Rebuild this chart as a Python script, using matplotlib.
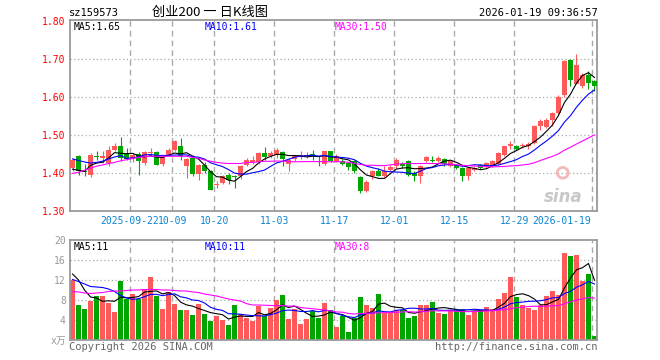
import matplotlib
matplotlib.use("Agg")
import matplotlib.pyplot as plt
import matplotlib.transforms as mtransforms
import numpy as np
import pandas as pd

# daily K data, 2025-09-08 .. 2026-01-19 (88 trading days)
opens = [1.413, 1.446, 1.405, 1.396, 1.445, 1.439, 1.426, 1.461, 1.470, 1.452,
         1.437, 1.451, 1.426, 1.452, 1.455, 1.425, 1.448, 1.461, 1.472, 1.418,
         1.439, 1.398, 1.422, 1.404, 1.368, 1.375, 1.396, 1.392, 1.391, 1.422,
         1.430, 1.428, 1.453, 1.444, 1.448, 1.454, 1.425, 1.437, 1.442, 1.444,
         1.450, 1.432, 1.425, 1.457, 1.431, 1.432, 1.426, 1.431, 1.389, 1.352,
         1.391, 1.404, 1.393, 1.409, 1.418, 1.425, 1.431, 1.400, 1.393, 1.431,
         1.435, 1.431, 1.437, 1.418, 1.420, 1.413, 1.393, 1.407, 1.420, 1.418,
         1.418, 1.425, 1.448, 1.470, 1.470, 1.470, 1.471, 1.479, 1.523, 1.521,
         1.540, 1.558, 1.604, 1.698, 1.635, 1.628, 1.659, 1.641]
highs = [1.440, 1.448, 1.423, 1.452, 1.457, 1.457, 1.470, 1.478, 1.496, 1.467,
         1.452, 1.455, 1.458, 1.466, 1.458, 1.445, 1.466, 1.486, 1.492, 1.440,
         1.448, 1.425, 1.430, 1.409, 1.380, 1.396, 1.400, 1.395, 1.420, 1.440,
         1.445, 1.456, 1.468, 1.458, 1.465, 1.457, 1.440, 1.448, 1.457, 1.455,
         1.461, 1.444, 1.459, 1.459, 1.450, 1.436, 1.430, 1.433, 1.391, 1.382,
         1.409, 1.413, 1.418, 1.420, 1.440, 1.430, 1.433, 1.404, 1.420, 1.445,
         1.444, 1.444, 1.440, 1.435, 1.424, 1.415, 1.415, 1.416, 1.423, 1.430,
         1.434, 1.456, 1.472, 1.483, 1.474, 1.479, 1.481, 1.526, 1.542, 1.545,
         1.560, 1.604, 1.697, 1.700, 1.714, 1.663, 1.668, 1.645]
lows = [1.405, 1.396, 1.393, 1.390, 1.433, 1.426, 1.418, 1.458, 1.431, 1.435,
        1.430, 1.396, 1.420, 1.448, 1.420, 1.418, 1.445, 1.458, 1.435, 1.387,
        1.391, 1.381, 1.400, 1.354, 1.360, 1.371, 1.372, 1.361, 1.385, 1.418,
        1.425, 1.425, 1.435, 1.440, 1.440, 1.418, 1.404, 1.432, 1.438, 1.440,
        1.435, 1.418, 1.420, 1.428, 1.428, 1.422, 1.409, 1.400, 1.347, 1.350,
        1.384, 1.391, 1.390, 1.405, 1.412, 1.414, 1.391, 1.378, 1.375, 1.428,
        1.428, 1.428, 1.418, 1.415, 1.410, 1.378, 1.381, 1.404, 1.410, 1.415,
        1.416, 1.423, 1.446, 1.463, 1.460, 1.466, 1.463, 1.476, 1.512, 1.519,
        1.523, 1.556, 1.601, 1.630, 1.633, 1.624, 1.621, 1.615]
closes = [1.433, 1.404, 1.402, 1.448, 1.443, 1.444, 1.461, 1.472, 1.440, 1.437,
          1.448, 1.431, 1.454, 1.455, 1.422, 1.442, 1.461, 1.483, 1.444, 1.437,
          1.398, 1.422, 1.404, 1.356, 1.371, 1.393, 1.382, 1.390, 1.418, 1.435,
          1.435, 1.453, 1.443, 1.453, 1.461, 1.437, 1.435, 1.444, 1.448, 1.448,
          1.446, 1.430, 1.457, 1.431, 1.444, 1.425, 1.416, 1.404, 1.352, 1.376,
          1.404, 1.393, 1.404, 1.416, 1.435, 1.418, 1.396, 1.391, 1.418, 1.442,
          1.431, 1.440, 1.425, 1.431, 1.413, 1.391, 1.413, 1.413, 1.413, 1.426,
          1.431, 1.453, 1.470, 1.477, 1.464, 1.475, 1.475, 1.523, 1.536, 1.540,
          1.558, 1.600, 1.694, 1.645, 1.685, 1.659, 1.637, 1.630]
volumes = [12.1, 7.0, 6.2, 7.9, 8.8, 8.8, 7.5, 5.7, 11.9, 8.3,
           9.2, 8.3, 10.2, 12.6, 8.8, 6.2, 9.7, 7.2, 6.0, 6.0,
           5.0, 7.3, 5.2, 3.9, 4.9, 4.0, 3.0, 7.0, 5.2, 4.4,
           3.9, 6.9, 4.8, 6.5, 8.0, 9.0, 4.2, 6.2, 3.2, 4.2,
           5.8, 4.5, 7.4, 6.0, 2.7, 4.8, 1.7, 4.5, 8.7, 7.0,
           6.5, 9.2, 5.5, 5.5, 6.0, 6.0, 4.5, 4.8, 7.0, 7.0,
           7.7, 5.5, 5.2, 6.0, 6.2, 6.2, 5.0, 5.7, 6.0, 6.7,
           6.2, 8.3, 9.5, 12.7, 8.7, 7.0, 6.5, 6.0, 7.0, 8.8,
           9.8, 9.0, 17.5, 16.9, 17.0, 11.9, 13.2, 0.8]

# moving-average values at the left edge (history before the window)
ma5_head = [1.410, 1.407, 1.404, 1.420]
ma10_head = [1.437, 1.433, 1.429, 1.426, 1.428, 1.431, 1.437, 1.442, 1.446]
ma30_head = [1.399, 1.402, 1.407, 1.413, 1.418, 1.421, 1.425, 1.428, 1.432, 1.435,
             1.438, 1.441, 1.443, 1.444, 1.444, 1.444, 1.444, 1.444, 1.444, 1.444,
             1.441, 1.439, 1.434, 1.431, 1.428, 1.426, 1.425, 1.425, 1.425]
vma5_head = [13.2, 12.0, 10.0, 8.6]
vma10_head = [12.1, 11.7, 11.2, 10.7, 10.6, 10.5, 10.2, 9.7, 8.9]
vma30_head = [9.7, 9.6, 9.4, 9.3, 9.4, 9.5, 9.7, 9.8, 9.8, 9.9,
              10.0, 10.0, 10.1, 10.1, 10.1, 10.0, 10.0, 9.9, 9.8, 9.8,
              9.6, 9.5, 9.2, 9.0, 8.8, 8.5, 8.2, 8.0, 7.8]

date_labels = ['2025-09-22', '10-09', '10-20', '11-03', '11-17',
               '12-01', '12-15', '12-29', '2026-01-19']
date_pos = [10, 17, 24, 34, 44, 54, 64, 74, 87]
price_ticks = [1.30, 1.40, 1.50, 1.60, 1.70, 1.80]
vol_ticks = [4, 8, 12, 16, 20]

UP = '#ff5a5a'
DOWN = '#00a600'
GRID = '#aaaaaa'
FRAME = '#9a9a9a'
MONO = 'DejaVu Sans Mono'


def moving_avg(values, n, head):
    s = pd.Series(values).rolling(n).mean().to_numpy()
    s[:len(head)] = head
    return s


W, H = 660, 360
fig = plt.figure(figsize=(W / 100, H / 100), dpi=100)
fig.patch.set_facecolor('white')


def box(left, top, right, bottom):
    return [left / W, 1 - bottom / H, (right - left) / W, (bottom - top) / H]


ax1 = fig.add_axes(box(70, 20, 597, 211))
ax2 = fig.add_axes(box(70, 240, 597, 340))

x = np.arange(len(closes))
o = np.array(opens)
c = np.array(closes)
up = c >= o
cols = np.where(up, UP, DOWN)

for ax in (ax1, ax2):
    ax.set_xlim(-0.42, len(closes) - 0.58)
    ax.set_xticks([])
    for sp in ax.spines.values():
        sp.set_color(FRAME)
        sp.set_linewidth(1.3)
    for p in date_pos:
        ax.axvline(p - 0.4, color=GRID, lw=1.0, ls=(0, (4, 3)), zorder=0)

# ---- price panel
ax1.set_ylim(1.30, 1.30 + 191 / 380)
for lv in price_ticks[1:-1]:
    ax1.axhline(lv, color=GRID, lw=0.9, ls=(0, (1, 2)), zorder=0)
ax1.set_yticks(price_ticks)
ax1.set_yticklabels(['%.2f' % v for v in price_ticks], fontfamily=MONO, fontsize=7)
ax1.tick_params(axis='y', length=0, pad=3, labelcolor='red')

ax1.vlines(x, lows, highs, colors=cols, lw=0.8, zorder=2)
body = np.maximum(np.abs(c - o), 0.0015)
ax1.bar(x, body, 0.8, bottom=np.minimum(o, c), color=cols, zorder=3)

ax1.plot(x, moving_avg(closes, 5, ma5_head), color='black', lw=0.8, zorder=4)
ax1.plot(x, moving_avg(closes, 10, ma10_head), color='#0000ff', lw=0.8, zorder=4)
ax1.plot(x, moving_avg(closes, 30, ma30_head), color='#ff00ff', lw=0.8, zorder=4)

trans = mtransforms.blended_transform_factory(ax1.transData, ax1.transAxes)
for lab, p in zip(date_labels, date_pos):
    ha = 'right' if p == date_pos[-1] else 'center'
    xp = p - 0.55 if ha == 'right' else p - 0.4
    ax1.text(xp, -0.052, lab, transform=trans, ha=ha, va='center',
             fontfamily=MONO, fontsize=7, color='#0a84d0')

ax1.text(0.007, 0.965, 'MA5:1.65', transform=ax1.transAxes, fontfamily=MONO,
         fontsize=7, va='center', color='black')
ax1.text(0.255, 0.965, 'MA10:1.61', transform=ax1.transAxes, fontfamily=MONO,
         fontsize=7, va='center', color='#0000ff')
ax1.text(0.502, 0.965, 'MA30:1.50', transform=ax1.transAxes, fontfamily=MONO,
         fontsize=7, va='center', color='#ff00ff')

# sina watermark
ax1.text(0.935, 0.075, 'sina', transform=ax1.transAxes, ha='center', va='center',
         fontsize=12, fontweight='bold', style='italic', color='#c8c8c8', zorder=1)
ax1.scatter([0.935], [0.2], transform=ax1.transAxes, s=60, facecolor='none',
            edgecolor='#f4b8b8', lw=2, zorder=1)

# ---- volume panel
ax2.set_ylim(0, 20)
for lv in vol_ticks[:-1]:
    ax2.axhline(lv, color=GRID, lw=0.9, ls=(0, (1, 2)), zorder=0)
ax2.set_yticks([0] + vol_ticks)
ax2.set_yticklabels(['x万'] + [str(v) for v in vol_ticks],
                    fontfamily=[MONO, 'Noto Sans CJK SC'], fontsize=7)
ax2.tick_params(axis='y', length=0, pad=3, labelcolor='#999999')

ax2.bar(x, volumes, 0.82, color=cols, zorder=2)
ax2.plot(x, moving_avg(volumes, 5, vma5_head), color='black', lw=0.8, zorder=4)
ax2.plot(x, moving_avg(volumes, 10, vma10_head), color='#0000ff', lw=0.8, zorder=4)
ax2.plot(x, moving_avg(volumes, 30, vma30_head), color='#ff00ff', lw=0.8, zorder=4)

ax2.text(0.007, 0.93, 'MA5:11', transform=ax2.transAxes, fontfamily=MONO,
         fontsize=7, va='center', color='black')
ax2.text(0.255, 0.93, 'MA10:11', transform=ax2.transAxes, fontfamily=MONO,
         fontsize=7, va='center', color='#0000ff')
ax2.text(0.502, 0.93, 'MA30:8', transform=ax2.transAxes, fontfamily=MONO,
         fontsize=7, va='center', color='#ff00ff')

# ---- header / footer
fig.text(69 / W, 1 - 13 / H, 'sz159573', fontfamily=MONO, fontsize=7.5, va='center')
fig.text(210 / W, 1 - 12 / H, '创业200 一 日K线图', ha='center', va='center',
         fontfamily=['Noto Sans CJK SC', 'DejaVu Sans'], fontsize=9.5)
fig.text(598 / W, 1 - 13 / H, '2026-01-19 09:36:57', ha='right', va='center',
         fontfamily=MONO, fontsize=7.5)
fig.text(69 / W, 1 - 347 / H, 'Copyright 2026 SINA.COM', va='center',
         fontfamily=MONO, fontsize=7.5, color='#666666')
fig.text(598 / W, 1 - 347 / H, 'http://finance.sina.com.cn', ha='right', va='center',
         fontfamily=MONO, fontsize=7.5, color='#666666')

fig.savefig('out.png', dpi=100)
